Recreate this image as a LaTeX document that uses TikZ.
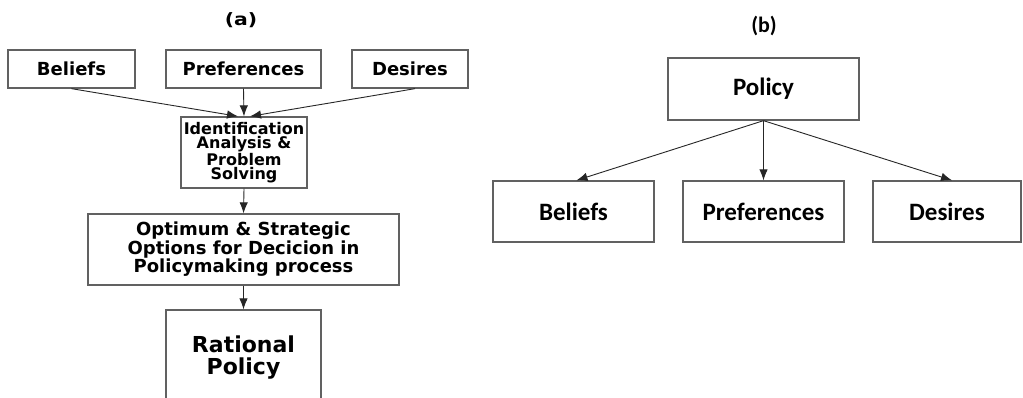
\documentclass[tikz,border=0pt]{standalone}
\usepackage{fontspec}
\usepackage{graphicx}
\newfontfamily\wideface{DejaVu Sans}
\newfontfamily\narrowface{Carlito}
\usetikzlibrary{arrows.meta}
\definecolor{boxgray}{gray}{0.38}

\begin{document}
\begin{tikzpicture}[x=1pt,y=-1pt,
  box/.style={draw=boxgray, line width=1.3pt, inner sep=0pt, align=center, text=black},
  abox/.style={box, font=\wideface\bfseries\fontsize{18}{14.5}\selectfont},
  idbox/.style={box, font=\wideface\bfseries\fontsize{16}{14}\selectfont},
  ratbox/.style={box, font=\wideface\bfseries\fontsize{22}{18}\selectfont},
  bbox/.style={box, font=\narrowface\bfseries\fontsize{25}{28}\selectfont},
  conn/.style={draw=black!85, line width=0.9pt, -{Latex[length=11pt,width=8.5pt]}}]

  \useasboundingbox (0,0) rectangle (1023,397);
  \fill[white] (0,0) rectangle (1023,397);

  % panel (a): rational policy flow
  \node[font=\wideface\bfseries\fontsize{17}{20}\selectfont] (la) at (241,20) {\scalebox{1.2}[1]{(a)}};

  \node[abox, minimum width=127pt, minimum height=38pt] (bel) at (71.5,69) {Beliefs};
  \node[abox, minimum width=155pt, minimum height=38pt] (pre) at (243.5,69) {Preferences};
  \node[abox, minimum width=116pt, minimum height=38pt] (des) at (410,69) {Desires};

  \node[idbox, minimum width=126pt, minimum height=71pt] (idf) at (244,152.5)
    {Identification\\Analysis \&\\Problem\\Solving};

  \node[abox, minimum width=311pt, minimum height=71pt] (opt) at (243.5,249.5)
    {Optimum \& Strategic\\Options for Decicion in\\Policymaking process};

  \node[ratbox, minimum width=155pt, minimum height=95pt] (rat) at (243.5,357.5)
    {\raisebox{7pt}{\begin{tabular}{@{}c@{}}Rational\\Policy\end{tabular}}};

  \draw[conn] (bel.south) -- ([xshift=-6pt]idf.north);
  \draw[conn] (pre.south) -- (idf.north);
  \draw[conn] ([xshift=5pt]des.south) -- ([xshift=6pt]idf.north);
  \draw[conn] (idf.south) -- (opt.north);
  \draw[conn] (opt.south) -- (rat.north);

  % panel (b): policy shaping its inputs
  \node[font=\narrowface\bfseries\fontsize{22}{26}\selectfont] (lb) at (764,26) {(b)};

  \node[bbox, minimum width=191pt, minimum height=62pt] (pol) at (763.5,89) {Policy};
  \node[bbox, minimum width=161pt, minimum height=61pt] (bel2) at (573.5,211.5) {Beliefs};
  \node[bbox, minimum width=161pt, minimum height=61pt] (pre2) at (763.5,211.5) {Preferences};
  \node[bbox, minimum width=148pt, minimum height=61pt] (des2) at (947,211.5) {Desires};

  \draw[conn] (pol.south) -- ([xshift=3pt]bel2.north);
  \draw[conn] (pol.south) -- (pre2.north);
  \draw[conn] (pol.south) -- ([xshift=5pt]des2.north);
\end{tikzpicture}
\end{document}
